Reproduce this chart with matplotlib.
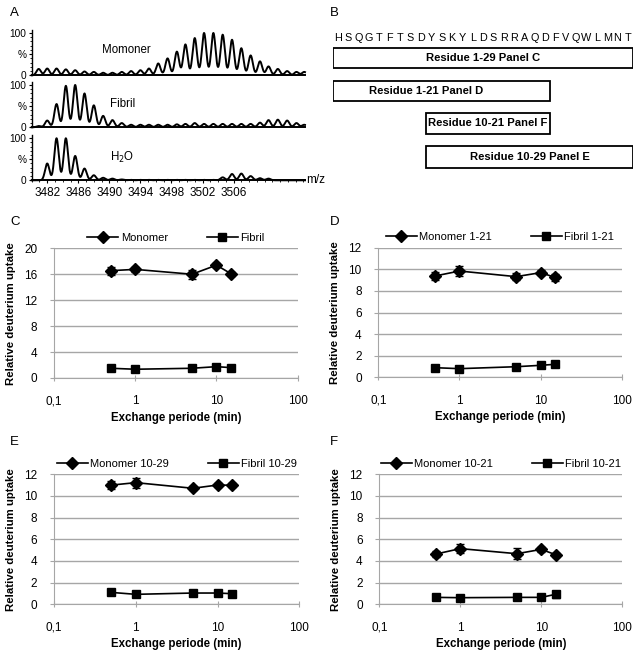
import matplotlib
matplotlib.use("Agg")
import matplotlib.pyplot as plt
import matplotlib.ticker as ticker
from matplotlib.lines import Line2D
from matplotlib.patches import Rectangle
import numpy as np

plt.rcParams["font.family"] = ["Liberation Sans", "DejaVu Sans"]

# ---- panel A: isotope peak centroids (m/z) and relative intensities (%)
peak_mz = [3480.9, 3482.0, 3483.2, 3484.4, 3485.6, 3486.8, 3488.0, 3489.2,
           3490.4, 3491.6, 3492.8, 3494.0, 3495.1, 3496.3, 3497.5, 3498.7,
           3499.8, 3501.0, 3502.2, 3503.4, 3504.6, 3505.8, 3507.0, 3508.2,
           3509.4, 3510.5, 3511.7, 3512.9, 3514.1, 3515.1]
monomer_int = [15, 16, 16, 14, 12, 9, 8, 6, 6, 8, 10, 12, 16, 28, 40, 56,
               73, 88, 100, 100, 96, 84, 64, 47, 33, 21, 15, 10, 8, 8]
fibril_int = [3, 16, 55, 98, 100, 80, 52, 27, 17, 10, 6, 6, 6, 6, 6, 7,
              8, 10, 8, 8, 8, 8, 8, 8, 11, 17, 18, 16, 10, 6]
h2o_int = [0, 40, 100, 100, 58, 28, 12, 6, 4, 2, 1, 1, 1, 1, 1, 1,
           1, 1, 1, 1, 7, 15, 16, 10, 5, 4, 0, 0, 0, 0]
spectra = [("Momoner", monomer_int), ("Fibril", fibril_int), ("H$_2$O", h2o_int)]

# ---- panel B: peptide sequence and the peptic fragments
sequence = "HSQGTFTSDYSKYLDSRRAQDFVQWLMNT"
fragments = [(1, 29, "Residue 1-29 Panel C"),
             (1, 21, "Residue 1-21 Panel D"),
             (10, 21, "Residue 10-21 Panel F"),
             (10, 29, "Residue 10-29 Panel E")]

# ---- panels C-F: deuterium uptake vs exchange time
time_min = [0.5, 1, 5, 10, 15]

c_mono = [16.55, 16.75, 16.0, 17.4, 16.1]
c_mono_err = [0.6, 0.35, 0.7, 0.3, 0.3]
c_fib = [1.5, 1.35, 1.5, 1.75, 1.6]

d_mono = [9.38, 9.84, 9.32, 9.69, 9.26]
d_mono_err = [0.4, 0.45, 0.3, 0.2, 0.35]
d_fib = [0.89, 0.8, 0.98, 1.11, 1.2]

e_mono = [11.0, 11.23, 10.71, 11.01, 10.99]
e_mono_err = [0.35, 0.45, 0.2, 0.15, 0.2]
e_fib = [1.1, 0.92, 1.04, 1.04, 0.98]

f_mono = [4.64, 5.14, 4.67, 5.07, 4.58]
f_mono_err = [0.25, 0.45, 0.5, 0.2, 0.2]
f_fib = [0.64, 0.61, 0.64, 0.64, 0.92]
f_fib_err = [0, 0, 0, 0, 0.3]

W, H = 640, 653
fig = plt.figure(figsize=(W / 100, H / 100), dpi=100)


def px_axes(left, top, right, bottom):
    return fig.add_axes([left / W, 1 - bottom / H, (right - left) / W, (bottom - top) / H])


# ---------------- panel A ----------------
fig.text(10 / W, 1 - 13 / H, "A", fontsize=9.5, va="center")
mz = np.linspace(3480.0, 3515.2, 3000)
a_rows = [(29.6, 75.3), (81.6, 127.3), (134.9, 180.3)]
label_pos = [(126, 50), (123, 104), (122, 157)]
for i, ((name, ints), (t, b)) in enumerate(zip(spectra, a_rows)):
    ax = px_axes(31.7, t, 305, b)
    prof = np.zeros_like(mz)
    for c, h in zip(peak_mz, ints):
        prof += h * np.exp(-0.5 * ((mz - c) / 0.28) ** 2)
    ax.plot(mz, prof, color="black", lw=1.4, clip_on=False)
    ax.set_xlim(3480.0, 3515.2)
    ax.set_ylim(0, 108)
    for s in ("top", "right"):
        ax.spines[s].set_visible(False)
    ax.spines["left"].set_linewidth(1.0)
    ax.spines["bottom"].set_linewidth(1.4)
    ax.set_yticks([0, 50, 100])
    ax.set_yticklabels(["0", "%", "100"], fontsize=7.3)
    ax.yaxis.set_minor_locator(ticker.MultipleLocator(10))
    ax.tick_params(axis="y", which="major", length=2.5, width=0.8, pad=1.5)
    ax.tick_params(axis="y", which="minor", length=1.5, width=0.6)
    if i < 2:
        ax.set_xticks([])
    else:
        ax.set_xticks(np.arange(3482, 3507, 4))
        ax.xaxis.set_minor_locator(ticker.MultipleLocator(1))
        ax.tick_params(axis="x", which="major", length=2.5, labelsize=8.5, pad=2)
        ax.tick_params(axis="x", which="minor", length=1.5)
    ax.patch.set_alpha(0)
    lx, ly = label_pos[i]
    fig.text(lx / W, 1 - ly / H, name, fontsize=8.3, ha="center", va="center")
fig.text(306 / W, 1 - 180 / H, "m/z", fontsize=8.5, ha="left", va="center")

# ---------------- panel B ----------------
fig.text(330 / W, 1 - 13 / H, "B", fontsize=9.5, va="center")
axb = px_axes(333, 25, 633, 175)
axb.set_xlim(0, len(sequence))
axb.set_ylim(175, 25)
axb.axis("off")
for k, aa in enumerate(sequence):
    axb.text(k + 0.5, 38, aa, fontsize=7.8, ha="center", va="center")
box_rows = [(48, 68), (81, 101), (113, 134), (146, 168)]
text_shift = [0, -1.5, 0, 0]
for (start, end, label), (y0, y1), dx in zip(fragments, box_rows, text_shift):
    axb.add_patch(Rectangle((start - 1, y0), end - start + 1, y1 - y0,
                            fill=False, edgecolor="black", lw=1.3))
    axb.text((start - 1 + end) / 2 + dx, (y0 + y1) / 2, label, fontsize=8.1,
             fontweight="bold", ha="center", va="center")

# ---------------- panels C-F ----------------
uptake_panels = [
    ("C", (54, 248.3, 297.7, 378), 20, 4, c_mono, c_mono_err, c_fib, None,
     "Monomer", "Fibril"),
    ("D", (378.3, 247.7, 621.7, 377.3), 12, 2, d_mono, d_mono_err, d_fib, None,
     "Monomer 1-21", "Fibril 1-21"),
    ("E", (54, 474.3, 299.3, 604.3), 12, 2, e_mono, e_mono_err, e_fib, None,
     "Monomer 10-29", "Fibril 10-29"),
    ("F", (379.3, 474.3, 622.3, 604.3), 12, 2, f_mono, f_mono_err, f_fib, f_fib_err,
     "Monomer 10-21", "Fibril 10-21"),
]
letter_pos = {"C": (10, 222), "D": (330, 222), "E": (10, 442), "F": (330, 442)}

for letter, box, ymax, ystep, mono, mono_err, fib, fib_err, lab_m, lab_f in uptake_panels:
    ax = px_axes(*box)
    lx, ly = letter_pos[letter]
    fig.text(lx / W, 1 - ly / H, letter, fontsize=9.5, va="center")
    ax.set_xscale("log")
    ax.set_xlim(0.1, 100)
    ax.set_ylim(0, ymax)
    ax.set_yticks(np.arange(0, ymax + 0.1, ystep))
    ax.set_xticks([0.1, 1, 10, 100])
    ax.set_xticklabels(["0,1", "1", "10", "100"])
    ax.xaxis.set_minor_locator(ticker.NullLocator())
    ax.grid(axis="y", color="#a6a6a6", lw=1.0)
    ax.set_axisbelow(True)
    for s in ("top", "right"):
        ax.spines[s].set_visible(False)
    ax.spines["left"].set_color("#a6a6a6")
    ax.spines["bottom"].set_color("#a6a6a6")
    ax.tick_params(axis="both", colors="#a6a6a6", labelcolor="black",
                   labelsize=8.5, length=3)
    ax.tick_params(axis="y", pad=9)
    ax.tick_params(axis="x", direction="inout", length=5, pad=10)
    ax.errorbar(time_min, mono, yerr=mono_err, color="black", lw=1.2,
                marker="D", ms=6, capsize=3, elinewidth=1, clip_on=False)
    ax.errorbar(time_min, fib, yerr=fib_err, color="black", lw=1.2,
                marker="s", ms=5.5, capsize=3, elinewidth=1, clip_on=False)
    handles = [Line2D([], [], color="black", lw=1.2, marker="D", ms=6),
               Line2D([], [], color="black", lw=1.2, marker="s", ms=5.5)]
    ax.legend(handles, [lab_m, lab_f], loc="lower center",
              bbox_to_anchor=(0.5, 1.0), ncol=2, frameon=False, fontsize=8.0,
              handlelength=2.8, handletextpad=0.2, columnspacing=3.5,
              borderaxespad=0.1)
    ax.set_xlabel("Exchange periode (min)", fontsize=8.3, fontweight="bold",
                  labelpad=3)
    ax.set_ylabel("Relative deuterium uptake", fontsize=8.2, fontweight="bold",
                  labelpad=6)

fig.savefig("out.png", dpi=100)
